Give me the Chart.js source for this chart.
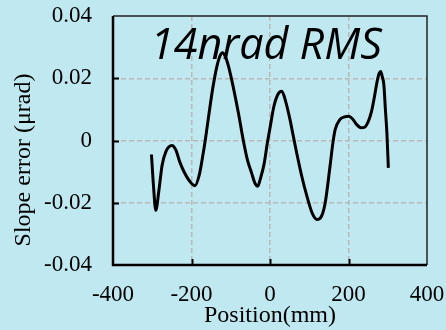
<!DOCTYPE html>
<html>
<head>
<meta charset="utf-8">
<script src="https://cdn.jsdelivr.net/npm/chart.js@4.4.0/dist/chart.umd.min.js"></script>
<style>
html, body { margin: 0; padding: 0; background: #c0e8f0; }
</style>
</head>
<body>
<canvas id="chart" width="446" height="330"></canvas>
<script>
// positions along the mirror (mm) and slope error (urad)
const positions = [-302, -297, -291, -283, -275, -265, -250, -240, -229, -208, -191, -180, -172, -165,
    -155, -145, -135, -128, -121, -114, -105, -94, -80, -68, -57, -47, -39, -31, -25, -15, -7, 0,
    10, 20, 30, 40, 51, 60, 68, 80, 94, 108, 120, 128, 140, 153, 160, 166, 178, 190, 200, 210,
    221, 232, 240, 250, 258, 266, 273, 278, 282, 286, 290, 294, 298, 301.5];
const slopeErrors = [-0.0045, -0.0143, -0.0224, -0.016, -0.008, -0.0035, -0.0016, -0.003, -0.0072, -0.0125, -0.0145, -0.011, -0.0055, 0,
    0.009, 0.0174, 0.024, 0.027, 0.0282, 0.027, 0.0235, 0.0174, 0.0085, 0, -0.0065, -0.0104, -0.0135, -0.0147, -0.0125, -0.0075, -0.001, 0.004,
    0.011, 0.0148, 0.0158, 0.0125, 0.0067, 0.001, -0.004, -0.011, -0.0179, -0.0235, -0.0254, -0.025, -0.0205, -0.0082, -0.001, 0.0035, 0.0067, 0.0076, 0.0078, 0.007,
    0.0051, 0.0041, 0.0042, 0.006, 0.009, 0.014, 0.019, 0.0215, 0.0222, 0.0205, 0.018, 0.010, 0.002, -0.0088];

const xTicks = [-400, -200, 0, 200, 400];
const xTickLabels = ['-400', '-200', '0', '200', '400'];
const yTicks = [-0.04, -0.02, 0, 0.02, 0.04];
const yTickLabels = ['-0.04', '-0.02', '0', '0.02', '0.04'];

const annotation = '14nrad RMS';
const xTitle = 'Position(mm)';
const yTitle = 'Slope error (\u03bcrad)';

const serif = '"Liberation Serif", "Times New Roman", serif';

const points = positions.map((p, i) => ({ x: p, y: slopeErrors[i] }));

// frame, inward ticks and the texts inside / left of the plot
const framePlugin = {
    id: 'frame',
    beforeDraw(chart) {
        const ctx = chart.ctx;
        ctx.save();
        ctx.fillStyle = '#c0e8f0';
        ctx.fillRect(0, 0, chart.width, chart.height);
        ctx.restore();
    },
    afterDraw(chart) {
        const { ctx, chartArea: a, scales } = chart;
        ctx.save();
        ctx.strokeStyle = '#000';
        ctx.lineWidth = 2;
        ctx.beginPath();
        xTicks.slice(1, -1).forEach(v => {
            const px = Math.round(scales.x.getPixelForValue(v)) + 0.5;
            ctx.moveTo(px, a.bottom);
            ctx.lineTo(px, a.bottom - 6);
        });
        yTicks.slice(1, -1).forEach(v => {
            const py = Math.round(scales.y.getPixelForValue(v)) + 0.5;
            ctx.moveTo(a.left, py);
            ctx.lineTo(a.left + 6, py);
        });
        ctx.stroke();

        ctx.strokeStyle = '#222';
        ctx.lineWidth = 1.5;
        ctx.beginPath();
        ctx.moveTo(a.left, a.top);
        ctx.lineTo(a.right, a.top);
        ctx.lineTo(a.right, a.bottom);
        ctx.stroke();

        ctx.strokeStyle = '#000';
        ctx.lineWidth = 2.5;
        ctx.beginPath();
        ctx.moveTo(a.left, a.top);
        ctx.lineTo(a.left, a.bottom);
        ctx.lineTo(a.right, a.bottom);
        ctx.stroke();

        ctx.fillStyle = '#000';
        ctx.font = 'italic 43px "Open Sans"';
        ctx.textAlign = 'center';
        ctx.textBaseline = 'alphabetic';
        ctx.fillText(annotation, 266, 59);

        ctx.translate(24, 160);
        ctx.rotate(-Math.PI / 2);
        ctx.font = '24px ' + serif;
        ctx.textBaseline = 'middle';
        ctx.fillText(yTitle, 0, 0);
        ctx.restore();
    }
};

new Chart(document.getElementById('chart'), {
    type: 'line',
    data: {
        datasets: [{
            data: points,
            borderColor: '#000',
            borderWidth: 3,
            pointRadius: 0,
            fill: false,
            cubicInterpolationMode: 'monotone'
        }]
    },
    options: {
        responsive: false,
        animation: false,
        layout: { padding: { left: 0, top: 16, right: 19, bottom: 0 } },
        plugins: {
            legend: { display: false },
            tooltip: { enabled: false }
        },
        scales: {
            x: {
                type: 'linear',
                min: -400,
                max: 400,
                afterBuildTicks: s => { s.ticks = xTicks.map(v => ({ value: v })); },
                afterFit: s => { s.height = 65; s.paddingLeft = 0; s.paddingRight = 0; },
                ticks: {
                    color: '#000',
                    font: { family: serif, size: 23 },
                    padding: 16,
                    maxRotation: 0,
                    callback: (v, i) => xTickLabels[i]
                },
                grid: {
                    drawTicks: false,
                    color: c => (c.index === 0 || c.index === xTicks.length - 1) ? 'rgba(0,0,0,0)' : '#b8b8b8',
                    lineWidth: 1.5
                },
                border: { display: false, dash: [5, 3] },
                title: {
                    display: true,
                    text: xTitle,
                    color: '#000',
                    font: { family: serif, size: 24 },
                    padding: { top: 0, bottom: 0 }
                }
            },
            y: {
                min: -0.04,
                max: 0.04,
                afterBuildTicks: s => { s.ticks = yTicks.map(v => ({ value: v })); },
                afterFit: s => { s.width = 113; s.paddingTop = 0; s.paddingBottom = 0; },
                ticks: {
                    color: '#000',
                    font: { family: serif, size: 23 },
                    padding: 21,
                    callback: (v, i) => yTickLabels[i]
                },
                grid: {
                    drawTicks: false,
                    color: c => (c.index === 0 || c.index === yTicks.length - 1) ? 'rgba(0,0,0,0)' : '#b8b8b8',
                    lineWidth: 1.5
                },
                border: { display: false, dash: [5, 3] }
            }
        }
    },
    plugins: [framePlugin]
});
</script>
</body>
</html>
